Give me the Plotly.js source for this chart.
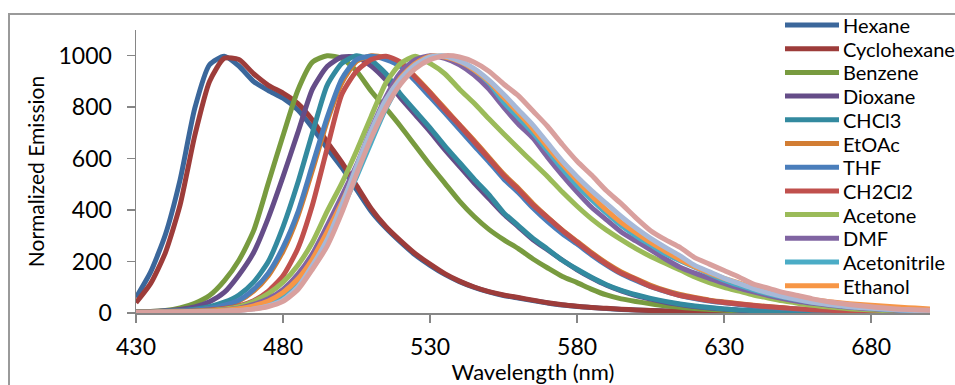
<!DOCTYPE html>
<html>
<head>
<meta charset="utf-8">
<script src="https://cdn.plot.ly/plotly-3.0.1.min.js"></script>
<style>
  html, body { margin:0; padding:0; background:#fff; overflow:hidden; }
  #frame { position:absolute; left:8px; top:13px; width:960px; height:400px; border:2px solid #9a9a9a; box-sizing:border-box; pointer-events:none; z-index:5; }
  #chart { position:absolute; left:0; top:0; width:955px; height:385px; }
</style>
</head>
<body>
<div id="chart"></div>
<div id="frame"></div>
<script>
// Wavelength (nm)
const wavelength = [430,435,440,445,450,455,460,465,470,475,480,485,490,495,500,505,510,515,520,525,530,535,540,545,550,555,560,565,570,575,580,585,590,595,600,605,610,615,620,625,630,635,640,645,650,655,660,665,670,675,680,685,690,695,700];

const seriesNames = ["Hexane","Cyclohexane","Benzene","Dioxane","CHCl3","EtOAc","THF","CH2Cl2","Acetone","DMF","Acetonitrile","Ethanol","Series13","Series14"];

const hexane      = [60,160,305,518,796,965,998,960,900,865,835,790,720,640,565,480,395,330,275,225,185,150,122,100,82,68,58,48,39,31,25,21,17,14,12,10,8,7,6,5,4,4,3,3,2,2,2,2,1,1,1,1,1,1,1];
const cyclohexane = [40,115,235,420,690,900,990,985,930,885,855,815,750,665,585,495,405,335,280,230,190,153,124,101,83,70,60,50,40,32,26,21,18,15,12,10,8,7,6,5,4,4,3,3,2,2,2,2,1,1,1,1,1,1,1];
const benzene     = [5,6,10,20,38,68,125,205,320,505,690,865,975,1000,990,940,862,795,725,650,575,505,435,375,325,285,250,210,175,142,118,92,70,55,45,36,28,22,17,14,11,9,7,5,4,3,3,2,2,2,1,1,1,1,1];
const dioxane     = [5,6,9,14,24,44,80,148,235,370,530,700,870,958,995,995,960,905,835,770,705,635,570,505,445,385,335,285,245,205,168,136,108,86,68,54,42,33,25,19,15,11,9,7,5,4,3,3,2,2,2,1,1,1,1];
const chcl3       = [4,5,7,10,15,25,42,70,120,200,335,505,700,885,970,1000,982,930,850,785,720,650,585,520,460,390,340,290,248,205,170,138,110,88,71,57,45,35,27,21,16,12,9,7,5,4,3,3,2,2,2,1,1,1,1];
const etoac       = [4,5,6,8,11,17,28,47,85,145,240,375,555,745,895,978,1000,992,972,918,858,795,732,670,605,540,485,425,372,322,278,234,194,160,133,108,88,72,60,50,43,36,30,25,20,16,13,11,9,7,6,5,4,3,3];
const thf         = [4,5,6,8,12,18,30,50,92,155,255,390,575,760,910,985,998,985,958,902,840,778,714,650,588,522,468,408,355,308,268,225,186,152,126,102,84,68,56,47,40,33,27,22,18,15,12,10,8,6,5,4,3,3,2];
const ch2cl2      = [3,4,5,6,8,12,18,28,48,85,145,250,420,640,850,940,985,998,975,915,855,790,730,665,600,535,480,420,370,320,275,230,190,155,130,103,85,68,58,48,41,35,29,24,20,16,13,11,9,7,5,4,3,3,2];
const acetone     = [3,3,4,5,7,10,15,25,45,75,120,185,275,395,505,630,765,895,970,998,970,930,870,815,755,697,640,585,530,470,415,365,322,285,250,220,193,167,140,118,100,85,70,58,47,38,30,24,19,15,12,9,7,5,4];
const dmf         = [3,3,4,5,6,8,12,19,33,55,92,150,230,340,455,575,715,840,935,985,1000,990,965,925,870,800,735,680,605,535,470,410,362,315,280,245,210,178,155,135,115,97,82,68,56,46,38,31,25,20,16,13,10,8,7];
const acetonitrile= [3,3,4,4,5,7,10,15,24,40,68,115,190,290,405,530,665,795,895,960,995,998,980,945,895,820,760,700,630,560,495,440,388,340,300,265,230,203,178,152,128,108,90,75,62,51,42,35,28,23,19,15,12,10,8];
const ethanol     = [3,3,4,5,6,8,11,17,28,47,80,132,210,315,430,555,690,820,915,970,998,995,978,945,900,838,778,715,645,578,515,455,400,352,312,274,240,208,180,156,135,117,100,85,70,60,52,45,39,34,30,26,22,19,16];
const series13    = [2,2,3,3,4,5,7,10,16,28,50,100,185,285,420,570,710,830,910,965,995,998,980,950,905,850,790,730,660,590,530,475,425,375,330,290,255,222,185,160,135,115,95,78,64,52,42,34,28,22,18,15,12,10,9];
const series14    = [2,2,3,3,4,5,7,10,15,25,45,90,170,260,390,540,680,800,890,950,985,1000,995,975,940,890,845,785,725,655,590,535,475,425,370,320,285,255,215,190,165,140,112,97,80,68,55,45,37,30,24,19,15,13,11];

const seriesValues = [hexane,cyclohexane,benzene,dioxane,chcl3,etoac,thf,ch2cl2,acetone,dmf,acetonitrile,ethanol,series13,series14];
const seriesColors = ["#3b679b","#9d3c3a","#789b3f","#654d88","#338a9f","#d27d33","#4a7ebb","#c0504d","#9bbb59","#8064a2","#4bacc6","#f79646","#a7b9d8","#d9a09e"];
const inLegend     = [true,true,true,true,true,true,true,true,true,true,true,true,false,false];

const traces = seriesNames.map((n, i) => ({
  type: 'scatter',
  mode: 'lines',
  name: n,
  x: wavelength,
  y: seriesValues[i],
  showlegend: false,
  line: { color: seriesColors[i], width: 5, shape: 'spline', smoothing: 0.6 }
}));

const fontFam = 'Lato, "Open Sans", sans-serif';

// Plot-area geometry (pixels) used to place the Excel-style legend
const M = { l: 136, r: 25, t: 30, b: 72 };
const W = 955, H = 385;
const pw = W - M.l - M.r, ph = H - M.t - M.b;
const px2x = p => (p - M.l) / pw;
const py2y = p => (H - M.b - p) / ph;

const legendShapes = [], legendTexts = [];
seriesNames.forEach((n, i) => {
  if (!inLegend[i]) return;
  const yPix = 25 + 23.7 * i;
  legendShapes.push({
    type: 'line', xref: 'paper', yref: 'paper', layer: 'above',
    x0: px2x(785), x1: px2x(839), y0: py2y(yPix), y1: py2y(yPix),
    line: { color: seriesColors[i], width: 5 }
  });
  legendTexts.push({
    xref: 'paper', yref: 'paper', x: px2x(841), y: py2y(yPix),
    xanchor: 'left', yanchor: 'middle', showarrow: false,
    text: n, font: { family: fontFam, size: 20, color: '#000' }
  });
});

const layout = {
  width: W, height: H,
  margin: M,
  paper_bgcolor: 'rgba(0,0,0,0)',
  plot_bgcolor: 'rgba(0,0,0,0)',
  font: { family: fontFam, color: '#000', size: 23 },
  showlegend: false,
  shapes: legendShapes,
  annotations: legendTexts,
  xaxis: {
    range: [430, 700],
    tick0: 430, dtick: 50,
    showline: true, linecolor: '#868686', linewidth: 1.5,
    ticks: 'outside', ticklen: 8, tickcolor: '#868686', tickwidth: 1.5,
    showgrid: false, zeroline: false,
    ticklabelstandoff: 5,
    tickfont: { family: fontFam, size: 23 },
    title: { text: 'Wavelength (nm)', font: { family: fontFam, size: 22 }, standoff: 3 }
  },
  yaxis: {
    range: [0, 1100],
    tick0: 0, dtick: 200,
    showline: true, linecolor: '#868686', linewidth: 1.5,
    ticks: 'outside', ticklen: 8, tickcolor: '#868686', tickwidth: 1.5,
    showgrid: false, zeroline: false,
    ticklabelstandoff: 10,
    tickfont: { family: fontFam, size: 23 },
    title: { text: 'Normalized Emission', font: { family: fontFam, size: 21 }, standoff: 8 }
  }
};

Plotly.newPlot('chart', traces, layout, { staticPlot: true, displayModeBar: false });
</script>
</body>
</html>
